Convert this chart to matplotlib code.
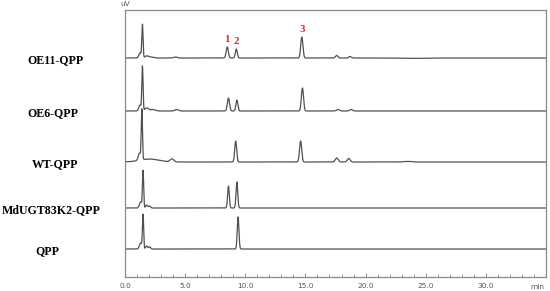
"""HPLC chromatograms of QPP reactions, stacked traces."""
import numpy as np
import matplotlib
matplotlib.use("Agg")
import matplotlib.pyplot as plt
import matplotlib.ticker as ticker
import matplotlib.transforms as mtransforms

plt.rcParams.update({
    "font.family": "DejaVu Sans",
    "axes.linewidth": 0.9,
    "axes.edgecolor": "#8a8a8a",
})

# ----------------------------------------------------------------
# Data (peak tables; heights in uV-ish units)
# ----------------------------------------------------------------
sample_names = ["OE11-QPP", "OE6-QPP", "WT-QPP", "MdUGT83K2-QPP", "QPP"]
trace_offsets = [219, 166, 115, 69, 28]

oe11_rt     = [1.25, 1.45, 1.8, 2.2, 4.2, 8.5, 9.25, 14.7, 17.6, 18.7, 23.8]
oe11_height = [5, 33, 2, 1, 1, 11, 9, 21, 2.5, 1.5, -0.4]
oe11_width  = [0.10, 0.05, 0.15, 0.20, 0.15, 0.09, 0.08, 0.09, 0.10, 0.10, 0.8]

oe6_rt      = [1.25, 1.45, 1.8, 2.3, 4.3, 8.6, 9.3, 14.75, 17.7, 18.8]
oe6_height  = [6, 44, 3, 1.5, 1.5, 13, 11, 23, 1.5, 1.5]
oe6_width   = [0.10, 0.05, 0.15, 0.20, 0.15, 0.09, 0.08, 0.09, 0.12, 0.12]

wt_rt       = [1.2, 1.4, 2.0, 3.9, 9.2, 14.6, 17.6, 18.6, 23.5]
wt_height   = [7, 50, 3, 3, 21, 21, 4, 3.5, 0.6]
wt_width    = [0.10, 0.05, 0.8, 0.15, 0.08, 0.09, 0.12, 0.12, 0.3]

md_rt       = [1.3, 1.5, 1.8, 2.05, 8.6, 9.3]
md_height   = [6, 37, 3, 2, 22, 26]
md_width    = [0.10, 0.05, 0.08, 0.08, 0.07, 0.07]

qpp_rt      = [1.3, 1.5, 1.8, 2.05, 9.4]
qpp_height  = [6, 34, 3, 2, 32]
qpp_width   = [0.10, 0.05, 0.08, 0.08, 0.07]

peak_labels = ["1", "2", "3"]
peak_label_idx = [5, 6, 7]          # which OE11 peaks get the red numbers

x_ticks = [0, 5, 10, 15, 20, 25, 30]
x_max = 35


def build_trace(t, rts, heights, widths):
    y = np.zeros_like(t)
    for rt, h, w in zip(rts, heights, widths):
        y += h * np.exp(-0.5 * ((t - rt) / w) ** 2)
    return y


def plot_chromatograms(out_path="out.png"):
    fig = plt.figure(figsize=(5.5, 2.91), dpi=100)
    ax = fig.add_axes([125 / 550, 14 / 291, 421 / 550, 267 / 291])

    t = np.linspace(0, x_max, 7000)
    tables = [
        (oe11_rt, oe11_height, oe11_width),
        (oe6_rt, oe6_height, oe6_width),
        (wt_rt, wt_height, wt_width),
        (md_rt, md_height, md_width),
        (qpp_rt, qpp_height, qpp_width),
    ]

    label_tr = mtransforms.blended_transform_factory(fig.transFigure, ax.transData)
    label_x = [55, 53, 55, 51, 47]
    for name, off, (rts, hs, ws), lx in zip(sample_names, trace_offsets, tables, label_x):
        ax.plot(t, off + build_trace(t, rts, hs, ws), color="#505050", lw=0.9)
        ax.text(lx / 550, off - 2, name, transform=label_tr, ha="center", va="center",
                family="Liberation Serif", fontweight="bold", fontsize=8.6, color="#000000")

    # red peak numbers above OE11
    for lab, i in zip(peak_labels, peak_label_idx):
        ax.text(oe11_rt[i], trace_offsets[0] + oe11_height[i] + 3, lab,
                ha="center", va="bottom", family="Liberation Serif",
                fontweight="bold", fontsize=7.8, color="#d42a2a")

    ax.set_xlim(0, x_max)
    ax.set_ylim(0, 267)
    ax.set_yticks([])
    ax.xaxis.set_major_locator(ticker.FixedLocator(x_ticks))
    ax.xaxis.set_minor_locator(ticker.MultipleLocator(1))
    ax.set_xticklabels([f"{v:.1f}" for v in x_ticks])
    ax.tick_params(axis="x", which="major", direction="in", length=3,
                   width=0.6, color="#777777", labelsize=5.3, labelcolor="#555555", pad=4)
    ax.tick_params(axis="x", which="minor", direction="in", length=2,
                   width=0.5, color="#777777")

    ax.text(34.3, -7, "min", ha="center", va="top", fontsize=5.3, color="#555555",
            clip_on=False)
    ax.text(0, 270, "uV", ha="center", va="bottom", fontsize=5.3, color="#555555",
            clip_on=False)

    fig.savefig(out_path, dpi=100)
    plt.close(fig)


if __name__ == "__main__":
    plot_chromatograms()
